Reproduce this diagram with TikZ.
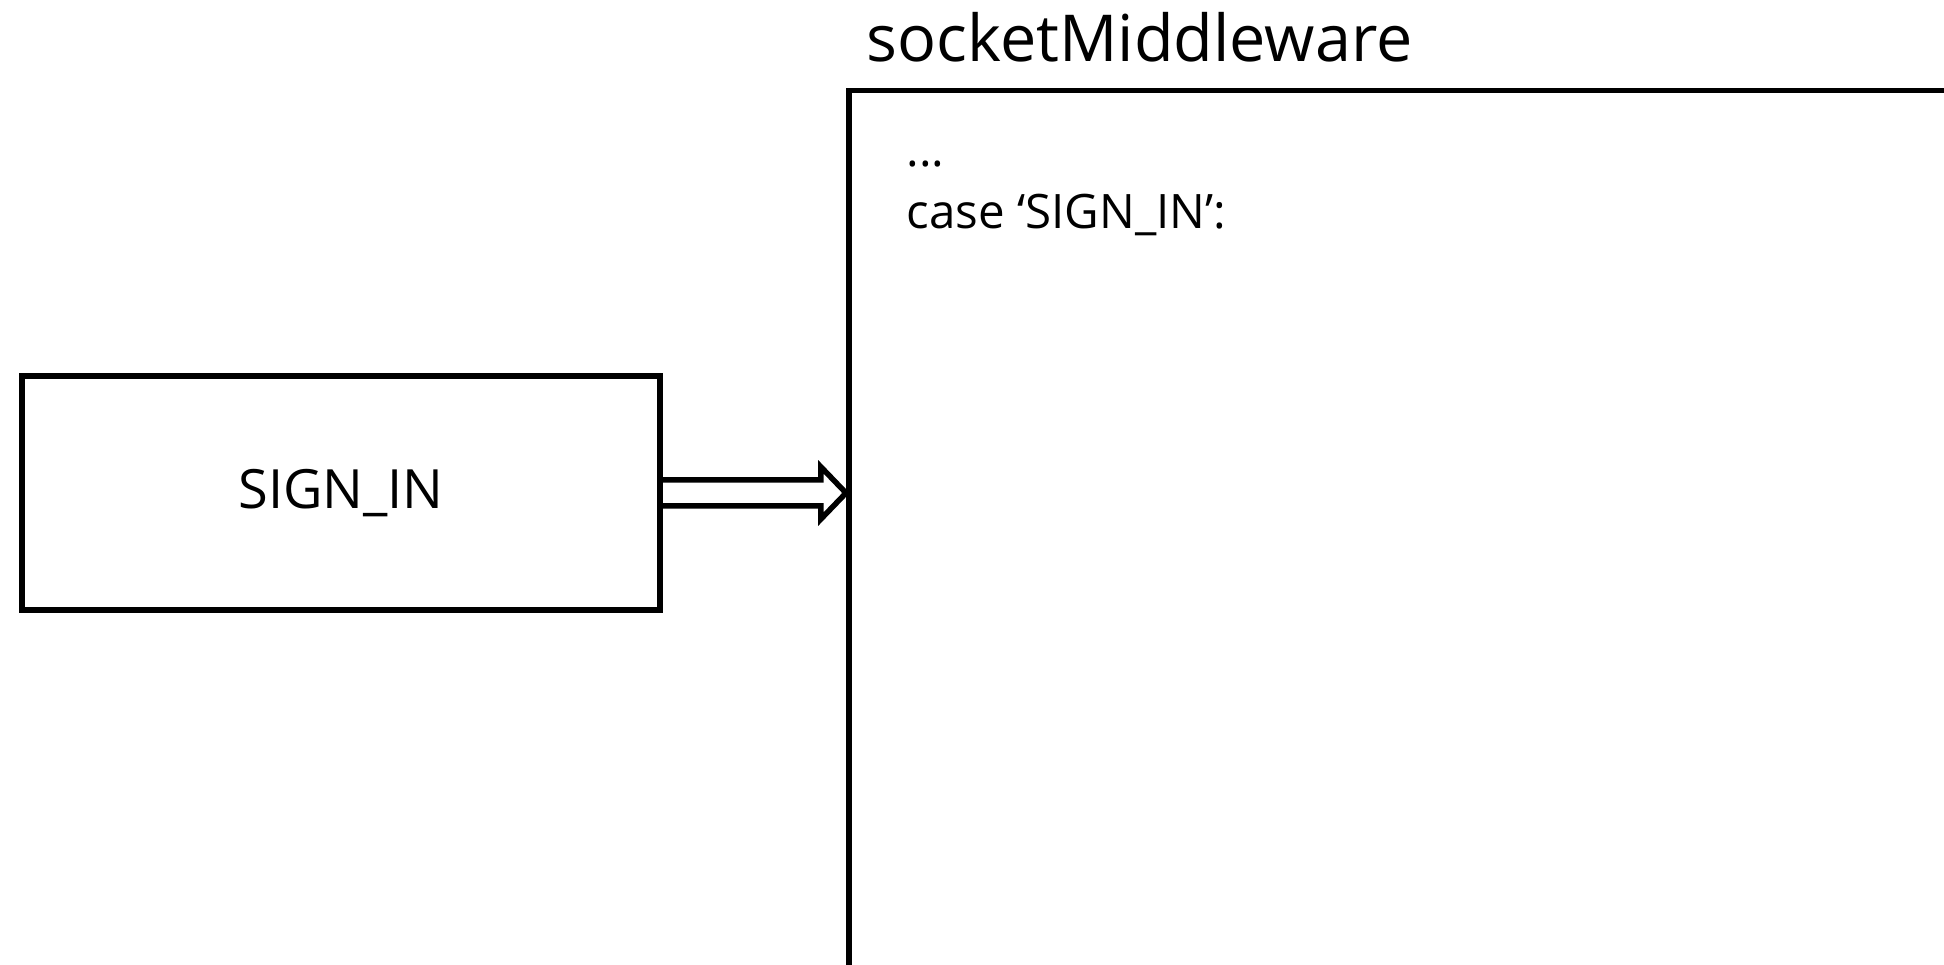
\documentclass[tikz,border=0pt]{standalone}
\usepackage{fontspec}
\setmainfont{Open Sans}
\usetikzlibrary{positioning,calc}

\tikzset{
  box/.style={draw, line width=0.055cm, inner sep=0pt},
  codetext/.style={anchor=base west, inner sep=0pt, font=\fontsize{13.5}{17}\selectfont},
  blockarrow/.style={line width=0.055cm, line join=miter, to path={let \p1=(\tikztostart), \p2=(\tikztotarget) in
    (\x1,\y1+0.13cm) -- (\x2-0.25cm,\y1+0.13cm) -- (\x2-0.25cm,\y1+0.26cm) -- (\x2,\y1)
    -- (\x2-0.25cm,\y1-0.26cm) -- (\x2-0.25cm,\y1-0.13cm) -- (\x1,\y1-0.13cm)}}
}

\begin{document}
\begin{tikzpicture}[x=0.01cm,y=-0.01cm]
  \useasboundingbox (0,0) rectangle (1944,965);

  % action box
  \node[box, minimum width=6.38cm, minimum height=2.34cm, font=\fontsize{15.4}{19}\selectfont] (sign) at (341,493) {SIGN\_IN};

  % middleware box (runs off the page)
  \node[box, anchor=north west, minimum width=12cm, minimum height=10cm] (mw) at (846,88) {};
  \node[anchor=base west, inner sep=0pt, font=\fontsize{18.4}{22}\selectfont] (title) at (866,62) {socketMiddleware};
  \node[codetext] (dots) at (906,167) {...};
  \node[codetext] (case) at (906,229) {case ‘SIGN\_IN’:};

  \draw[blockarrow] (sign.east) to (mw.west |- sign.east);
\end{tikzpicture}
\end{document}
